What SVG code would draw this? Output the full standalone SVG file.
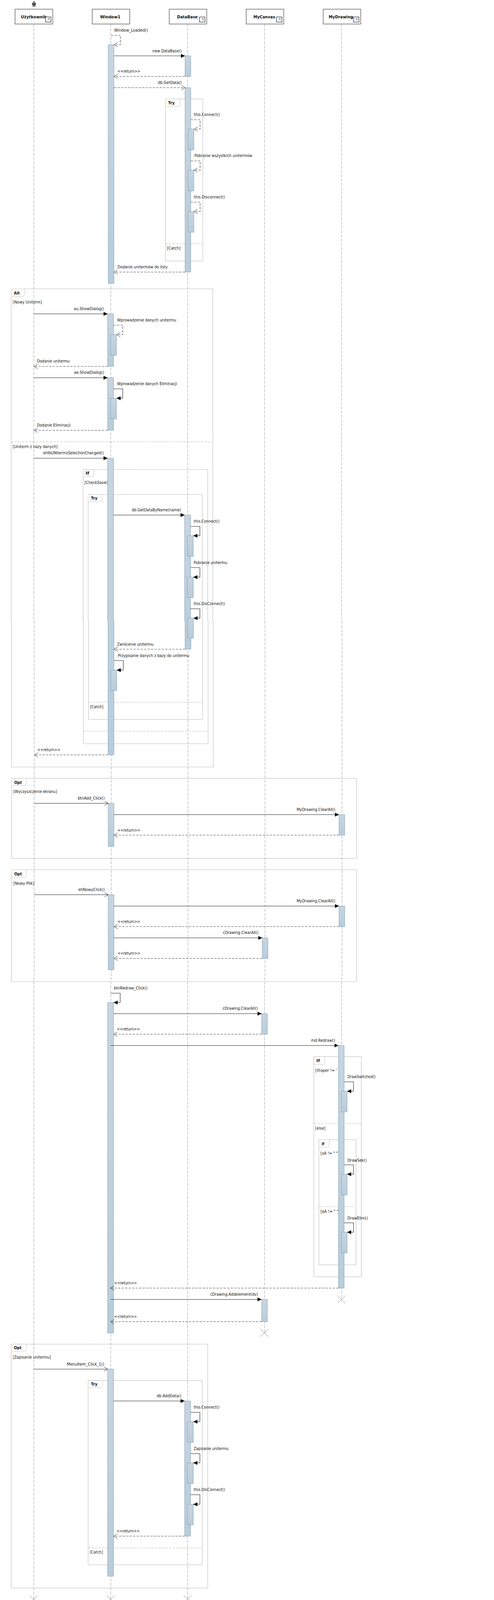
<svg xmlns="http://www.w3.org/2000/svg" width="1264" height="4156" viewBox="0 0 1264 4156">
<defs>
<linearGradient id="bar" x1="0" y1="0" x2="0" y2="1"><stop offset="0" stop-color="#c8d5e0"/><stop offset="1" stop-color="#b9ccda"/></linearGradient>
<marker id="fa" markerUnits="userSpaceOnUse" markerWidth="12" markerHeight="12" viewBox="0 0 12 12" refX="10.5" refY="6" orient="auto"><path d="M0,1 L10.5,6 L0,11 Z" fill="#000"/></marker>
<marker id="oa" markerUnits="userSpaceOnUse" markerWidth="14" markerHeight="14" viewBox="0 0 14 14" refX="10.5" refY="7" orient="auto"><path d="M1,1.4 L10.5,7 L1,12.6" fill="none" stroke="#333" stroke-width="1"/></marker>
</defs>
<style>
text{font-family:"DejaVu Sans","Liberation Sans",sans-serif;font-size:11px;fill:#111}
.b{font-weight:bold}
.nb{fill:#fff;stroke:#444;stroke-width:1.2}
.ic{fill:#fff;stroke:#555;stroke-width:1.6}
.fr{fill:none;stroke:#bdbdbd;stroke-width:1.1}
.tab{fill:#fff;stroke:#c8c8c8;stroke-width:1}
.fd{fill:none;stroke:#b5b5b5;stroke-width:1.1;stroke-dasharray:6 3}
.ll{fill:none;stroke:#b0b0b0;stroke-width:1.2;stroke-dasharray:8 3}
.act{fill:url(#bar);stroke:#8aa8c0;stroke-width:1.1}
.s{fill:none;stroke:#222;stroke-width:1.1;marker-end:url(#fa)}
.so{fill:none;stroke:#222;stroke-width:1.1;marker-end:url(#oa)}
.d{fill:none;stroke:#444;stroke-width:1.2;stroke-dasharray:6 3;marker-end:url(#oa)}
.x{fill:none;stroke:#666;stroke-width:.8}
</style>

<g id="frames">
<g id="frame-try-1"><rect class="fr" x="423.5" y="253.5" width="95.5" height="414.5"/><path class="tab" d="M423.5,253.5 H460.5 V266 L458,272.5 H423.5 Z"/><text class="b" x="430" y="267" textLength="17" lengthAdjust="spacingAndGlyphs">Try</text><path class="fd" d="M423.5,624 H519"/><text x="427" y="639" textLength="35" lengthAdjust="spacingAndGlyphs">[Catch]</text></g>
<g id="frame-alt"><path class="fr" d="M28.5,739.5 H544.5 V1589 H545.5 V1963.5 H29.5 V1589 H28.5 Z"/><path class="tab" d="M28.5,739.5 H63 V752 L60.5,758.5 H28.5 Z"/><text class="b" x="35.5" y="753.5" textLength="15" lengthAdjust="spacingAndGlyphs">Alt</text><text x="32.5" y="777" textLength="75" lengthAdjust="spacingAndGlyphs">[Nowy Uniterm]</text><path class="fd" d="M28.5,1131 H540"/><text x="32.5" y="1146.5" textLength="115" lengthAdjust="spacingAndGlyphs">[Uniterm z bazy danych]</text></g>
<g id="frame-if-1"><path class="fr" d="M212.5,1202 H531.5 V1589 H532.5 V1904 H213.5 V1589 H212.5 Z"/><path class="tab" d="M212.5,1202 H240.5 V1214 L238,1220.5 H212.5 Z"/><text class="b" x="219" y="1214.5" textLength="9.5" lengthAdjust="spacingAndGlyphs">If</text><text x="216" y="1239" textLength="66.5" lengthAdjust="spacingAndGlyphs">[CheckSave()]</text><path class="fd" d="M213.5,1872 H532.5"/></g>
<g id="frame-try-2"><path class="fr" d="M225.5,1266 H517.5 V1589 H518.5 V1841.5 H226.5 V1589 H225.5 Z"/><path class="tab" d="M225.5,1266 H262 V1278.5 L259.5,1284.5 H225.5 Z"/><text class="b" x="232.5" y="1279" textLength="17" lengthAdjust="spacingAndGlyphs">Try</text><path class="fd" d="M226.5,1798 H518.5"/><text x="230.5" y="1813" textLength="34" lengthAdjust="spacingAndGlyphs">[Catch]</text></g>
<g id="frame-opt-1"><rect class="fr" x="29.5" y="1992.5" width="883" height="205"/><path class="tab" d="M29.5,1992.5 H68 V2005 L65.5,2011.5 H29.5 Z"/><text class="b" x="36.5" y="2006.5" textLength="19.5" lengthAdjust="spacingAndGlyphs">Opt</text><text x="34" y="2030" textLength="112" lengthAdjust="spacingAndGlyphs">[Wyczyszczenie ekranu]</text></g>
<g id="frame-opt-2"><path class="fr" d="M29.5,2226.5 H912.5 V2505 H911.5 V2513 H28.5 V2505 H29.5 Z"/><path class="tab" d="M29.5,2226.5 H68 V2239 L65.5,2245.5 H29.5 Z"/><text class="b" x="36.5" y="2240.5" textLength="19.5" lengthAdjust="spacingAndGlyphs">Opt</text><text x="34" y="2264.5" textLength="53.5" lengthAdjust="spacingAndGlyphs">[Nowy Plik]</text></g>
<g id="frame-if-2"><rect class="fr" x="803" y="2705" width="121.5" height="563.5"/><path class="tab" d="M803,2705 H831 V2718 L828.5,2724.5 H803 Z"/><text class="b" x="809.5" y="2719" textLength="9" lengthAdjust="spacingAndGlyphs">If</text><text x="806.5" y="2743.5" textLength="69" lengthAdjust="spacingAndGlyphs">[if(oper != ' ')]</text><path class="fd" d="M803,2876 H924.5"/><text x="806.5" y="2891.5" textLength="26" lengthAdjust="spacingAndGlyphs">[else]</text></g>
<g id="frame-if-3"><rect class="fr" x="816" y="2917.5" width="95" height="320.5"/><path class="tab" d="M816,2917.5 H842.5 V2930.5 L840,2936.5 H816 Z"/><text class="b" x="823" y="2931.5" textLength="7" lengthAdjust="spacingAndGlyphs">if</text><text x="820" y="2955.5" textLength="48" lengthAdjust="spacingAndGlyphs">[sA != " "]</text><path class="fd" d="M816,3089 H907"/><text x="820" y="3104.5" textLength="49.5" lengthAdjust="spacingAndGlyphs">[eA != " "]</text></g>
<g id="frame-opt-3"><rect class="fr" x="28.5" y="3441" width="503" height="624.5"/><path class="tab" d="M28.5,3441 H67.5 V3453 L65,3459.5 H28.5 Z"/><text class="b" x="35.5" y="3454" textLength="19.5" lengthAdjust="spacingAndGlyphs">Opt</text><text x="32.5" y="3478" textLength="98" lengthAdjust="spacingAndGlyphs">[Zapisanie unitermu]</text></g>
<g id="frame-try-3"><rect class="fr" x="225.5" y="3534" width="292" height="472"/><path class="tab" d="M225.5,3534 H262 V3546 L259.5,3552.5 H225.5 Z"/><text class="b" x="232.5" y="3547" textLength="17" lengthAdjust="spacingAndGlyphs">Try</text><path class="fd" d="M225.5,3962.5 H517.5"/><text x="229.5" y="3977" textLength="34" lengthAdjust="spacingAndGlyphs">[Catch]</text></g>
</g>

<g id="lifelines">
<path class="ll" d="M86.5,61 V1589 H87.5 V2505 H86.5 V4094"/>
<path class="ll" d="M283.5,61 V1589 H284.5 V2505 H283.5 V4094"/>
<path class="ll" d="M480,61 V1589 H481 V2505 H480 V4094"/>
<path class="ll" d="M677,61 V1589 H678 V2505 H677 V3412"/>
<path class="ll" d="M874,61 V1589 H875 V2505 H874 V3327"/>
<path class="x" d="M76,4084.5 L96,4104 M96,4084.5 L76,4104"/>
<path class="x" d="M273,4084.5 L293,4104 M293,4084.5 L273,4104"/>
<path class="x" d="M470,4084.5 L490,4104 M490,4084.5 L470,4104"/>
<path class="x" d="M666.5,3402.5 L686.5,3422 M686.5,3402.5 L666.5,3422"/>
<path class="x" d="M863.5,3317 L883.5,3336.5 M883.5,3317 L863.5,3336.5"/>
</g>

<g id="node-uzytkownik"><path d="M87,3.3 a2,1.9 0 1 1 -.01,0 Z M82,7.5 H92 V12 H90.5 V17 H87.6 V13 H86.4 V17 H83.5 V12 H82 Z" fill="#444"/><rect class="nb" x="38.5" y="23.5" width="96.5" height="38"/><text class="b" x="53.3" y="46.5" textLength="66" lengthAdjust="spacingAndGlyphs">Użytkownik</text><rect class="ic" x="116.5" y="43.5" width="14" height="13"/><path d="M121,52.5 L126,47.5 M122.5,47.5 H126 V51" fill="none" stroke="#555"/></g>
<g id="node-window1"><rect class="nb" x="236" y="23.5" width="96" height="38"/><text class="b" x="256" y="46.5" textLength="52" lengthAdjust="spacingAndGlyphs">Window1</text></g>
<g id="node-database"><rect class="nb" x="433" y="23.5" width="96" height="38"/><text class="b" x="453" y="46.5" textLength="53" lengthAdjust="spacingAndGlyphs">DataBase</text><rect class="ic" x="510.5" y="43.5" width="14" height="13"/><path d="M515,52.5 L520,47.5 M516.5,47.5 H520 V51" fill="none" stroke="#555"/></g>
<g id="node-mycanvas"><rect class="nb" x="630" y="23.5" width="96" height="38"/><text class="b" x="648.5" y="46.5" textLength="55.5" lengthAdjust="spacingAndGlyphs">MyCanvas</text><rect class="ic" x="707.5" y="43.5" width="14" height="13"/><path d="M712,52.5 L717,47.5 M713.5,47.5 H717 V51" fill="none" stroke="#555"/></g>
<g id="node-mydrawing"><rect class="nb" x="827" y="23.5" width="96" height="38"/><text class="b" x="841" y="46.5" textLength="62.5" lengthAdjust="spacingAndGlyphs">MyDrawing</text><rect class="ic" x="904.5" y="43.5" width="14" height="13"/><path d="M909,52.5 L914,47.5 M910.5,47.5 H914 V51" fill="none" stroke="#555"/></g>

<g id="activations">
<rect class="act" x="277" y="114.5" width="14.5" height="611"/>
<rect class="act" x="473.5" y="143" width="14.5" height="52.5"/>
<rect class="act" x="473.5" y="224.5" width="14.5" height="472"/>
<rect class="act" x="481" y="330.5" width="15" height="53"/>
<rect class="act" x="481" y="435.5" width="15" height="53"/>
<rect class="act" x="481" y="541.5" width="15" height="53"/>
<rect class="act" x="275.5" y="803.5" width="15" height="134.5"/>
<rect class="act" x="283" y="856.5" width="15" height="53"/>
<rect class="act" x="275.5" y="967" width="15" height="134.5"/>
<rect class="act" x="283" y="1019.5" width="15" height="53"/>
<path class="act" d="M275.5,1173 H290.5 V1589 H291.5 V1932.5 H276.5 V1589 H275.5 Z"/>
<path class="act" d="M472.5,1318.5 H487.5 V1589 H488.5 V1662 H473.5 V1589 H472.5 Z"/>
<rect class="act" x="479.5" y="1371.5" width="15" height="53"/>
<rect class="act" x="479.5" y="1477.5" width="15" height="52.5"/>
<rect class="act" x="480" y="1582.5" width="15" height="51"/>
<rect class="act" x="283.5" y="1715.5" width="15" height="52.5"/>
<rect class="act" x="277" y="2056.5" width="14.5" height="110.5"/>
<rect class="act" x="867.5" y="2085.5" width="14.5" height="52.5"/>
<rect class="act" x="277" y="2290.5" width="14.5" height="192"/>
<rect class="act" x="867.5" y="2319.5" width="14.5" height="52.5"/>
<rect class="act" x="671" y="2401" width="14.5" height="52.5"/>
<rect class="act" x="275.5" y="2566.5" width="15" height="846"/>
<rect class="act" x="669.5" y="2595" width="14.5" height="52.5"/>
<rect class="act" x="866" y="2676.5" width="14.5" height="621"/>
<rect class="act" x="873.5" y="2793.5" width="14.5" height="53"/>
<rect class="act" x="873.5" y="3006" width="14.5" height="53"/>
<rect class="act" x="873.5" y="3154.5" width="14.5" height="53"/>
<rect class="act" x="669.5" y="3326.5" width="14.5" height="57"/>
<rect class="act" x="275.5" y="3505" width="15" height="530"/>
<rect class="act" x="472.5" y="3586.5" width="15" height="346"/>
<rect class="act" x="479.5" y="3639.5" width="15" height="53"/>
<rect class="act" x="479.5" y="3745" width="15" height="53"/>
<rect class="act" x="479.5" y="3851" width="15" height="52.5"/>
</g>

<g id="connectors">
<path class="d" d="M284,90.5 H308 V114.5 H291.5"/><text x="292" y="81" textLength="86.5" lengthAdjust="spacingAndGlyphs">Window_Loaded()</text>
<path class="s" d="M291.5,143 H473.5"/><text x="390" y="134" textLength="75" lengthAdjust="spacingAndGlyphs">new DataBase()</text>
<path class="d" d="M473.5,195.5 H291.5"/><text x="300.5" y="185.5" textLength="58.5" lengthAdjust="spacingAndGlyphs">&lt;&lt;return&gt;&gt;</text>
<path class="d" d="M291.5,224.5 H473.5"/><text x="404" y="215" textLength="61" lengthAdjust="spacingAndGlyphs">db.GetData()</text>
<path class="d" d="M488,306.5 H512 V330.5 H496"/><text x="496" y="297" textLength="66.5" lengthAdjust="spacingAndGlyphs">this.Connect()</text>
<path class="d" d="M488,412 H512 V435.5 H496"/><text x="497.5" y="402" textLength="148" lengthAdjust="spacingAndGlyphs">Pobranie wszystkich unitermów</text>
<path class="d" d="M488,517.5 H512 V541.5 H496"/><text x="496" y="508" textLength="80" lengthAdjust="spacingAndGlyphs">this.Disconnect()</text>
<path class="d" d="M473.5,696.5 H291.5"/><text x="300.5" y="687" textLength="128.5" lengthAdjust="spacingAndGlyphs">Dodanie unitermów do listy</text>

<path class="s" d="M86.5,803.5 H275.5"/><text x="189" y="794" textLength="77.5" lengthAdjust="spacingAndGlyphs">au.ShowDialog()</text>
<path class="d" d="M290.5,832.5 H314 V856.5 H298"/><text x="299.5" y="823" textLength="151.5" lengthAdjust="spacingAndGlyphs">Wprowadzenie danych unitermu</text>
<path class="d" d="M275.5,938 H86.5"/><text x="94.5" y="928" textLength="84" lengthAdjust="spacingAndGlyphs">Dodanie unitermu</text>
<path class="s" d="M86.5,967 H275.5"/><text x="189.5" y="957" textLength="77" lengthAdjust="spacingAndGlyphs">ae.ShowDialog()</text>
<path class="s" d="M290.5,995.5 H314 V1019.5 H298"/><text x="299.5" y="986" textLength="153.5" lengthAdjust="spacingAndGlyphs">Wprowadzenie danych Eliminacji</text>
<path class="d" d="M275.5,1101.5 H86.5"/><text x="94.5" y="1092" textLength="86" lengthAdjust="spacingAndGlyphs">Dodanie Eliminacji</text>
<path class="s" d="M86.5,1173 H275.5"/><text x="110.5" y="1163" textLength="155" lengthAdjust="spacingAndGlyphs">ehlbUNitermsSelectionChanged()</text>
<path class="s" d="M290.5,1318.5 H472.5"/><text x="337" y="1309" textLength="126" lengthAdjust="spacingAndGlyphs">db.GetDataByName(name)</text>
<path class="s" d="M487.5,1347.5 H511.5 V1371.5 H494.5"/><text x="495.5" y="1338" textLength="66" lengthAdjust="spacingAndGlyphs">this.Connect()</text>
<path class="s" d="M487.5,1453 H511.5 V1477.5 H494.5"/><text x="495.5" y="1444" textLength="86" lengthAdjust="spacingAndGlyphs">Pobranie unitermu</text>
<path class="s" d="M487.5,1558.5 H511.5 V1582.5 H495"/><text x="495.5" y="1549" textLength="80.5" lengthAdjust="spacingAndGlyphs">this.DisConnect()</text>
<path class="d" d="M473.5,1662 H291.5"/><text x="299.5" y="1653" textLength="93.5" lengthAdjust="spacingAndGlyphs">Zwrócenie unitermu</text>
<path class="s" d="M291.5,1691 H315.5 V1715.5 H298.5"/><text x="301.5" y="1682" textLength="183" lengthAdjust="spacingAndGlyphs">Przypisanie danych z bazy do unitermu</text>
<path class="d" d="M276.5,1932.5 H87.5"/><text x="95.5" y="1923" textLength="59" lengthAdjust="spacingAndGlyphs">&lt;&lt;return&gt;&gt;</text>

<path class="so" d="M87.5,2056.5 H277"/><text x="199" y="2046.5" textLength="69" lengthAdjust="spacingAndGlyphs">btnAdd_Click()</text>
<path class="s" d="M291.5,2085.5 H867.5"/><text x="759" y="2075.5" textLength="99" lengthAdjust="spacingAndGlyphs">MyDrawing.ClearAll()</text>
<path class="d" d="M867.5,2138 H291.5"/><text x="300.5" y="2128.5" textLength="58.5" lengthAdjust="spacingAndGlyphs">&lt;&lt;return&gt;&gt;</text>
<path class="so" d="M87.5,2290.5 H277"/><text x="200.5" y="2280.5" textLength="67.5" lengthAdjust="spacingAndGlyphs">ehNowyClick()</text>
<path class="s" d="M291.5,2319.5 H867.5"/><text x="759" y="2309.5" textLength="99" lengthAdjust="spacingAndGlyphs">MyDrawing.ClearAll()</text>
<path class="d" d="M867.5,2372 H291.5"/><text x="300.5" y="2362.5" textLength="58.5" lengthAdjust="spacingAndGlyphs">&lt;&lt;return&gt;&gt;</text>
<path class="s" d="M291.5,2401 H671"/><text x="570.5" y="2390.5" textLength="91" lengthAdjust="spacingAndGlyphs">cDrawing.ClearAll()</text>
<path class="d" d="M671,2453.5 H291.5"/><text x="300.5" y="2443.5" textLength="58.5" lengthAdjust="spacingAndGlyphs">&lt;&lt;return&gt;&gt;</text>

<path class="s" d="M283,2542.5 H307.5 V2566.5 H290.5"/><text x="291.5" y="2532.5" textLength="86" lengthAdjust="spacingAndGlyphs">btnRedraw_Click()</text>
<path class="s" d="M290.5,2595 H669.5"/><text x="569.5" y="2584.5" textLength="90.5" lengthAdjust="spacingAndGlyphs">cDrawing.ClearAll()</text>
<path class="d" d="M669.5,2647.5 H290.5"/><text x="299" y="2637.5" textLength="59" lengthAdjust="spacingAndGlyphs">&lt;&lt;return&gt;&gt;</text>
<path class="s" d="M283,2676.5 H866"/><text x="796" y="2666.5" textLength="61.5" lengthAdjust="spacingAndGlyphs">md.Redraw()</text>
<path class="s" d="M880.5,2769.5 H904.5 V2793.5 H888"/><text x="889" y="2760" textLength="72" lengthAdjust="spacingAndGlyphs">DrawSwitched()</text>
<path class="s" d="M880.5,2982 H904.5 V3006 H888"/><text x="889" y="2973.5" textLength="49.5" lengthAdjust="spacingAndGlyphs">DrawSek()</text>
<path class="s" d="M880.5,3130.5 H904.5 V3154.5 H888"/><text x="889" y="3121.5" textLength="52.5" lengthAdjust="spacingAndGlyphs">DrawElim()</text>
<path class="d" d="M866,3297.5 H282.5"/><text x="292" y="3287.5" textLength="58.5" lengthAdjust="spacingAndGlyphs">&lt;&lt;return&gt;&gt;</text>
<path class="s" d="M283,3326.5 H669.5"/><text x="538" y="3316.5" textLength="122" lengthAdjust="spacingAndGlyphs">cDrawing.Addelement(dv)</text>
<path class="d" d="M669.5,3383.5 H282.5"/><text x="292" y="3373.5" textLength="58.5" lengthAdjust="spacingAndGlyphs">&lt;&lt;return&gt;&gt;</text>

<path class="so" d="M86.5,3505 H275.5"/><text x="171" y="3496" textLength="95.5" lengthAdjust="spacingAndGlyphs">MenuItem_Click_1()</text>
<path class="s" d="M290.5,3586.5 H472.5"/><text x="401" y="3577" textLength="63" lengthAdjust="spacingAndGlyphs">db.AddData()</text>
<path class="s" d="M487.5,3615.5 H511.5 V3639.5 H494.5"/><text x="495.5" y="3606" textLength="66" lengthAdjust="spacingAndGlyphs">this.Connect()</text>
<path class="s" d="M487.5,3721.5 H511.5 V3745 H494.5"/><text x="495.5" y="3712" textLength="89" lengthAdjust="spacingAndGlyphs">Zapisanie unitermu</text>
<path class="s" d="M487.5,3826.5 H511.5 V3851 H494.5"/><text x="495.5" y="3817" textLength="80.5" lengthAdjust="spacingAndGlyphs">this.DisConnect()</text>
<path class="d" d="M472.5,3932.5 H290.5"/><text x="298.5" y="3923" textLength="59" lengthAdjust="spacingAndGlyphs">&lt;&lt;return&gt;&gt;</text>
</g>
</svg>
